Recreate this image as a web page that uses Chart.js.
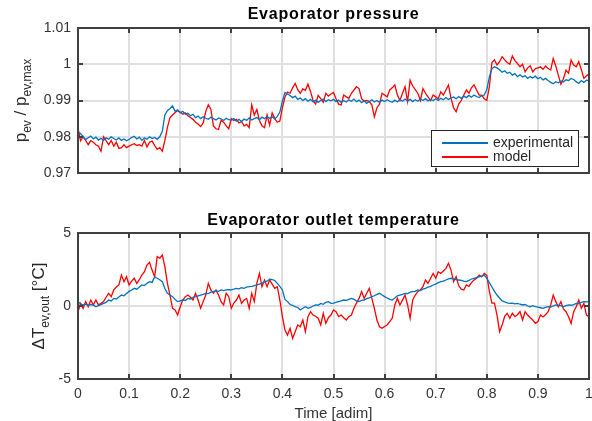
<!DOCTYPE html>
<html>
<head>
<meta charset="utf-8">
<script src="https://cdn.jsdelivr.net/npm/chart.js@4.4.0/dist/chart.umd.min.js"></script>
<style>
  html, body { margin: 0; padding: 0; background: #fff; }
  #wrap { position: relative; width: 592px; height: 421px; }
  canvas { position: absolute; left: 0; }
</style>
</head>
<body>
<div id="wrap">
  <canvas id="pressureChart" width="592" height="200" style="top:0"></canvas>
  <canvas id="tempChart" width="592" height="221" style="top:200px"></canvas>
</div>
<script>
// sample grid, 0 .. 1 in steps of 0.005
const time = Array.from({ length: 201 }, (_, i) => i / 200);

const xTicks = [0, 0.1, 0.2, 0.3, 0.4, 0.5, 0.6, 0.7, 0.8, 0.9, 1];
const pressureTicks = [0.97, 0.98, 0.99, 1, 1.01];
const tempTicks = [-5, 0, 5];

const pressureExp = [
  0.9813, 0.9809, 0.9800, 0.9792, 0.9797, 0.9802, 0.9794, 0.9799, 0.9791, 0.9796, 0.9790, 0.9797, 0.9793, 0.9800, 0.9795, 0.9791, 0.9797, 0.9790, 0.9794, 0.9789,
  0.9793, 0.9798, 0.9801, 0.9794, 0.9799, 0.9790, 0.9797, 0.9793, 0.9800, 0.9795, 0.9798, 0.9793, 0.9800, 0.9815, 0.9860, 0.9872, 0.9878, 0.9885, 0.9870, 0.9874,
  0.9866, 0.9870, 0.9862, 0.9865, 0.9858, 0.9862, 0.9853, 0.9857, 0.9850, 0.9855, 0.9851, 0.9848, 0.9854, 0.9850, 0.9846, 0.9852, 0.9849, 0.9845, 0.9851, 0.9847,
  0.9846, 0.9850, 0.9843, 0.9848, 0.9842, 0.9849, 0.9845, 0.9852, 0.9846, 0.9850, 0.9853, 0.9847, 0.9854, 0.9850, 0.9856, 0.9851, 0.9855, 0.9849, 0.9856, 0.9868,
  0.9898, 0.9922, 0.9918, 0.9914, 0.9908, 0.9912, 0.9903, 0.9907, 0.9900, 0.9905, 0.9898, 0.9903, 0.9896, 0.9901, 0.9895, 0.9900, 0.9904, 0.9897, 0.9902, 0.9899,
  0.9903, 0.9897, 0.9901, 0.9895, 0.9900, 0.9896, 0.9902, 0.9898, 0.9904, 0.9897, 0.9901, 0.9894, 0.9899, 0.9892, 0.9897, 0.9902, 0.9896, 0.9900, 0.9895, 0.9901,
  0.9897, 0.9902, 0.9898, 0.9895, 0.9901, 0.9896, 0.9903, 0.9898, 0.9904, 0.9899, 0.9903, 0.9897, 0.9902, 0.9898, 0.9904, 0.9900, 0.9905, 0.9899, 0.9903, 0.9900,
  0.9905, 0.9900, 0.9906, 0.9902, 0.9908, 0.9903, 0.9907, 0.9910, 0.9905, 0.9911, 0.9906, 0.9912, 0.9908, 0.9914, 0.9909, 0.9915, 0.9911, 0.9908, 0.9913, 0.9915,
  0.9930, 0.9965, 0.9988, 0.9993, 0.9990, 0.9985, 0.9978, 0.9982, 0.9975, 0.9978, 0.9970, 0.9974, 0.9966, 0.9971, 0.9965, 0.9968, 0.9961, 0.9966, 0.9962, 0.9967,
  0.9960, 0.9964, 0.9957, 0.9961, 0.9955, 0.9950, 0.9946, 0.9952, 0.9949, 0.9954, 0.9951, 0.9957, 0.9955, 0.9961, 0.9958, 0.9952, 0.9947, 0.9955, 0.9950, 0.9956,
  0.9955
];

const pressureModel = [
  0.9823, 0.9789, 0.9800, 0.9790, 0.9778, 0.9789, 0.9785, 0.9778, 0.9774, 0.9760, 0.9800, 0.9789, 0.9778, 0.9790, 0.9774, 0.9785, 0.9768, 0.9770, 0.9778, 0.9770,
  0.9774, 0.9778, 0.9781, 0.9776, 0.9778, 0.9774, 0.9790, 0.9772, 0.9785, 0.9788, 0.9776, 0.9765, 0.9770, 0.9760, 0.9790, 0.9826, 0.9853, 0.9860, 0.9867, 0.9872,
  0.9868, 0.9862, 0.9866, 0.9858, 0.9853, 0.9848, 0.9840, 0.9835, 0.9828, 0.9838, 0.9870, 0.9888, 0.9876, 0.9830, 0.9822, 0.9820, 0.9845, 0.9840, 0.9830, 0.9822,
  0.9850, 0.9845, 0.9848, 0.9838, 0.9842, 0.9830, 0.9834, 0.9825, 0.9888, 0.9860, 0.9875, 0.9845, 0.9830, 0.9825, 0.9860, 0.9832, 0.9866, 0.9850, 0.9840, 0.9843,
  0.9880, 0.9910, 0.9923, 0.9920, 0.9935, 0.9947, 0.9930, 0.9920, 0.9932, 0.9928, 0.9945, 0.9925, 0.9900, 0.9890, 0.9914, 0.9905, 0.9895, 0.9920, 0.9912, 0.9918,
  0.9922, 0.9905, 0.9890, 0.9888, 0.9915, 0.9910, 0.9906, 0.9920, 0.9929, 0.9938, 0.9933, 0.9905, 0.9898, 0.9900, 0.9897, 0.9888, 0.9855, 0.9880, 0.9890, 0.9920,
  0.9915, 0.9910, 0.9929, 0.9935, 0.9943, 0.9915, 0.9900, 0.9920, 0.9938, 0.9897, 0.9956, 0.9940, 0.9930, 0.9920, 0.9900, 0.9933, 0.9920, 0.9910, 0.9900, 0.9915,
  0.9910, 0.9905, 0.9924, 0.9915, 0.9929, 0.9943, 0.9906, 0.9880, 0.9869, 0.9890, 0.9900, 0.9915, 0.9929, 0.9920, 0.9935, 0.9943, 0.9929, 0.9915, 0.9915, 0.9905,
  0.9900, 0.9938, 1.0005, 1.0012, 0.9998, 1.0007, 1.0021, 1.0012, 1.0005, 1.0000, 1.0023, 1.0010, 1.0002, 0.9993, 1.0000, 0.9979, 0.9990, 0.9996, 0.9979, 0.9988,
  0.9990, 0.9993, 0.9986, 0.9995, 0.9988, 0.9984, 1.0016, 0.9995, 0.9970, 0.9945, 0.9960, 0.9984, 0.9975, 1.0012, 0.9998, 0.9993, 1.0007, 0.9985, 0.9961, 0.9968,
  0.9973
];

const tempExp = [
  0.30, 0.15, 0.07, 0.12, 0.05, 0.10, 0.07, -0.05, 0.02, 0.10, 0.18, 0.25, 0.41, 0.35, 0.52, 0.48, 0.62, 0.75, 0.70, 0.85,
  1.00, 1.10, 1.21, 1.15, 1.30, 1.44, 1.40, 1.55, 1.67, 1.62, 2.00, 1.90, 1.80, 1.67, 1.20, 0.87, 0.75, 0.64, 0.45, 0.30,
  0.35, 0.41, 0.38, 0.52, 0.48, 0.60, 0.64, 0.70, 0.75, 0.80, 0.87, 0.85, 0.95, 0.98, 1.05, 1.00, 1.10, 1.05, 1.10, 1.12,
  1.10, 1.15, 1.21, 1.18, 1.25, 1.21, 1.30, 1.32, 1.35, 1.40, 1.44, 1.50, 1.55, 1.67, 1.70, 1.83, 1.80, 1.75, 1.55, 1.35,
  1.10, 0.45, 0.30, 0.10, 0.05, -0.05, -0.10, -0.27, -0.15, -0.05, -0.16, -0.10, 0.00, 0.07, 0.05, 0.18, 0.12, 0.25, 0.30, 0.18,
  0.20, 0.25, 0.30, 0.35, 0.41, 0.38, 0.45, 0.52, 0.45, 0.35, 0.30, 0.38, 0.41, 0.50, 0.55, 0.64, 0.70, 0.80, 0.87, 0.75,
  0.64, 0.55, 0.45, 0.41, 0.55, 0.70, 0.75, 0.80, 0.87, 0.85, 0.95, 0.98, 1.00, 1.10, 1.05, 1.15, 1.21, 1.30, 1.35, 1.44,
  1.50, 1.60, 1.67, 1.70, 1.78, 1.85, 1.90, 1.88, 1.80, 1.78, 1.75, 1.70, 1.67, 1.75, 1.85, 1.90, 1.95, 2.00, 2.05, 2.12,
  1.90, 1.60, 1.30, 1.00, 0.75, 0.55, 0.35, 0.28, 0.22, 0.18, 0.20, 0.15, 0.18, 0.12, 0.07, 0.10, 0.00, -0.05, 0.02, -0.05,
  -0.08, -0.12, -0.16, -0.10, -0.05, -0.08, 0.00, 0.07, 0.05, 0.02, -0.05, 0.02, 0.07, 0.05, 0.10, 0.18, 0.15, 0.25, 0.30, 0.28,
  0.30
];

const tempModel = [
  -0.39, 0.18, -0.16, 0.30, -0.05, 0.41, 0.07, 0.41, 0.07, 0.18, 0.30, 0.60, 0.87, 0.64, 1.10, 1.30, 1.44, 2.12, 1.67, 2.00,
  1.44, 1.70, 1.90, 1.55, 1.80, 2.12, 2.35, 2.81, 3.00, 2.46, 2.00, 3.38, 3.27, 3.49, 2.69, 1.55, 0.75, -0.16, -0.27, -0.62,
  -0.05, 0.41, 0.64, 0.75, 0.60, 0.41, 0.87, 0.41, -0.16, 0.30, 0.75, 1.55, 1.10, 0.87, 1.10, 0.75, 0.30, 0.07, 0.87, 0.64,
  -0.16, 0.20, 0.41, 0.75, 0.18, 0.41, 0.52, -0.16, 0.87, 0.30, 1.55, 2.23, 1.32, 1.78, 1.32, 1.78, 1.50, 1.21, 1.32, 0.41,
  -0.73, -1.64, -1.99, -1.53, -2.21, -1.76, -1.30, -1.42, -0.96, -1.76, -0.73, -0.39, -0.62, -0.70, -0.84, -1.30, -0.50, -1.19, -0.80, -0.62,
  -0.27, -0.39, -0.73, -0.62, -0.80, -0.96, -0.73, -0.62, -0.16, 0.20, 0.52, 0.98, 0.52, 0.87, 1.21, 0.52, -0.16, -0.96, -1.42, -1.53,
  -1.40, -1.30, -1.07, -0.84, 0.07, 0.52, 0.07, 0.40, 0.75, 0.07, -0.84, 0.41, 0.75, 0.98, 1.10, 1.32, 1.78, 1.55, 1.90, 2.23,
  1.90, 2.35, 2.23, 2.40, 2.58, 2.92, 2.46, 1.67, 2.00, 1.40, 1.15, 1.10, 1.44, 1.35, 1.60, 1.78, 1.90, 2.12, 2.00, 2.23,
  2.10, 1.00, 0.20, 0.20, -0.62, -1.76, -1.30, -0.70, -0.50, -0.84, -0.50, -0.73, -0.60, -0.39, -0.96, -0.39, -0.62, -0.80, -0.96, -1.19,
  -1.07, -0.62, -0.75, -0.60, -0.39, 0.07, 0.75, 0.30, -0.05, 0.30, -0.20, -0.39, -0.73, -1.19, -0.39, -0.05, 0.41, -0.16, 0.18, -0.62,
  -0.73
];

const FONT = "'Liberation Sans', Arial, sans-serif";
const INK = '#262626';
const BLUE = '#0072bd';
const RED = '#ff0000';

function points(values) {
  return time.map((t, i) => ({ x: t, y: values[i] }));
}

function drawYLabel(ctx, parts, baseX, cy) {
  ctx.save();
  ctx.translate(baseX, cy);
  ctx.rotate(-Math.PI / 2);
  ctx.fillStyle = INK;
  ctx.textAlign = 'left';
  ctx.textBaseline = 'alphabetic';
  let w = 0;
  parts.forEach(p => {
    ctx.font = (p.sub ? '12px ' : '17px ') + FONT;
    w += ctx.measureText(p.t).width;
  });
  let x = -w / 2;
  parts.forEach(p => {
    ctx.font = (p.sub ? '12px ' : '17px ') + FONT;
    ctx.fillText(p.t, x, p.sub ? 5 : 0);
    x += ctx.measureText(p.t).width;
  });
  ctx.restore();
}

// MATLAB style frame: box, inward ticks, bold title, rich y label, inner legend
function framePlugin(cfg) {
  return {
    id: 'frame',
    afterDatasetsDraw(chart) {
      const { ctx, chartArea: a, scales } = chart;
      ctx.save();
      ctx.strokeStyle = '#404040';
      ctx.lineWidth = 2;
      ctx.beginPath();
      xTicks.forEach(v => {
        const px = Math.round(scales.x.getPixelForValue(v));
        ctx.moveTo(px, a.bottom); ctx.lineTo(px, a.bottom - 5);
        ctx.moveTo(px, a.top); ctx.lineTo(px, a.top + 5);
      });
      cfg.yTicks.forEach(v => {
        const py = Math.round(scales.y.getPixelForValue(v));
        ctx.moveTo(a.left, py); ctx.lineTo(a.left + 5, py);
        ctx.moveTo(a.right, py); ctx.lineTo(a.right - 5, py);
      });
      ctx.stroke();
      ctx.strokeRect(a.left, a.top, a.right - a.left, a.bottom - a.top);

      // title
      ctx.fillStyle = '#000';
      ctx.font = 'bold 16px ' + FONT;
      ctx.letterSpacing = '0.8px';
      ctx.textAlign = 'center';
      ctx.textBaseline = 'middle';
      ctx.fillText(cfg.title, (a.left + a.right) / 2, cfg.titleY);
      ctx.letterSpacing = '0px';

      drawYLabel(ctx, cfg.yLabel, cfg.yLabelX, (a.top + a.bottom) / 2);

      if (cfg.legend) {
        const lx = 431, ly = 130, lw = 147, lh = 36;
        ctx.fillStyle = '#fff';
        ctx.fillRect(lx, ly, lw, lh);
        ctx.strokeStyle = INK;
        ctx.lineWidth = 1;
        ctx.strokeRect(lx + 0.5, ly + 0.5, lw, lh);
        ctx.font = '14px ' + FONT;
        ctx.textAlign = 'left';
        ctx.textBaseline = 'middle';
        chart.data.datasets.forEach((ds, i) => {
          const y = ly + 13 + i * 14;
          ctx.strokeStyle = ds.borderColor;
          ctx.lineWidth = 2;
          ctx.beginPath();
          ctx.moveTo(lx + 11, y); ctx.lineTo(lx + 57, y);
          ctx.stroke();
          ctx.fillStyle = INK;
          ctx.fillText(ds.label, lx + 62, y);
        });
      }
      ctx.restore();
    }
  };
}

function makeChart(id, cfg) {
  const ctx = document.getElementById(id).getContext('2d');
  return new Chart(ctx, {
    type: 'line',
    data: {
      datasets: [
        { label: 'experimental', data: points(cfg.exp), borderColor: BLUE, borderWidth: 1.3, pointRadius: 0, tension: 0 },
        { label: 'model', data: points(cfg.model), borderColor: RED, borderWidth: 1.3, pointRadius: 0, tension: 0 }
      ]
    },
    options: {
      responsive: false,
      animation: false,
      events: [],
      layout: { padding: { left: 0, right: 3, top: cfg.padTop, bottom: 0 } },
      plugins: { legend: { display: false }, tooltip: { enabled: false } },
      scales: {
        x: {
          type: 'linear',
          min: 0, max: 1,
          afterBuildTicks: s => { s.ticks = xTicks.map(v => ({ value: v })); },
          afterFit: s => {
            s.height = cfg.xHeight;
            s.paddingLeft = 0;
            s.paddingRight = 0;
          },
          grid: { color: '#e0e0e0', lineWidth: 2, drawTicks: false },
          border: { display: false },
          ticks: {
            display: cfg.showX,
            padding: 7,
            color: '#333',
            font: { family: FONT, size: 14 },
            maxRotation: 0,
            callback: v => String(+v.toFixed(1))
          },
          title: {
            display: cfg.showX,
            text: 'Time [adim]',
            color: '#333',
            font: { family: FONT, size: 15 },
            padding: { top: 0, bottom: -2 }
          }
        },
        y: {
          type: 'linear',
          min: cfg.yTicks[0], max: cfg.yTicks[cfg.yTicks.length - 1],
          afterBuildTicks: s => { s.ticks = cfg.yTicks.map(v => ({ value: v })); },
          afterFit: s => {
            s.width = 78;
            s.paddingTop = 0;
            s.paddingBottom = 0;
          },
          grid: { color: '#e0e0e0', lineWidth: 2, drawTicks: false },
          border: { display: false },
          ticks: {
            padding: 7,
            color: '#333',
            font: { family: FONT, size: 14 },
            callback: v => String(+v.toFixed(2))
          }
        }
      }
    },
    plugins: [framePlugin(cfg)]
  });
}

makeChart('pressureChart', {
  exp: pressureExp, model: pressureModel,
  yTicks: pressureTicks,
  padTop: 28, xHeight: 27, showX: false,
  title: 'Evaporator pressure', titleY: 15,
  yLabel: [{ t: 'p' }, { t: 'ev', sub: true }, { t: ' / p' }, { t: 'ev,max', sub: true }],
  yLabelX: 26,
  legend: true
});

makeChart('tempChart', {
  exp: tempExp, model: tempModel,
  yTicks: tempTicks,
  padTop: 33, xHeight: 42, showX: true,
  title: 'Evaporator outlet temperature', titleY: 21,
  yLabel: [{ t: '\u0394T' }, { t: 'ev,out', sub: true }, { t: ' [\u00b0C]' }],
  yLabelX: 44,
  legend: false
});
</script>
</body>
</html>
